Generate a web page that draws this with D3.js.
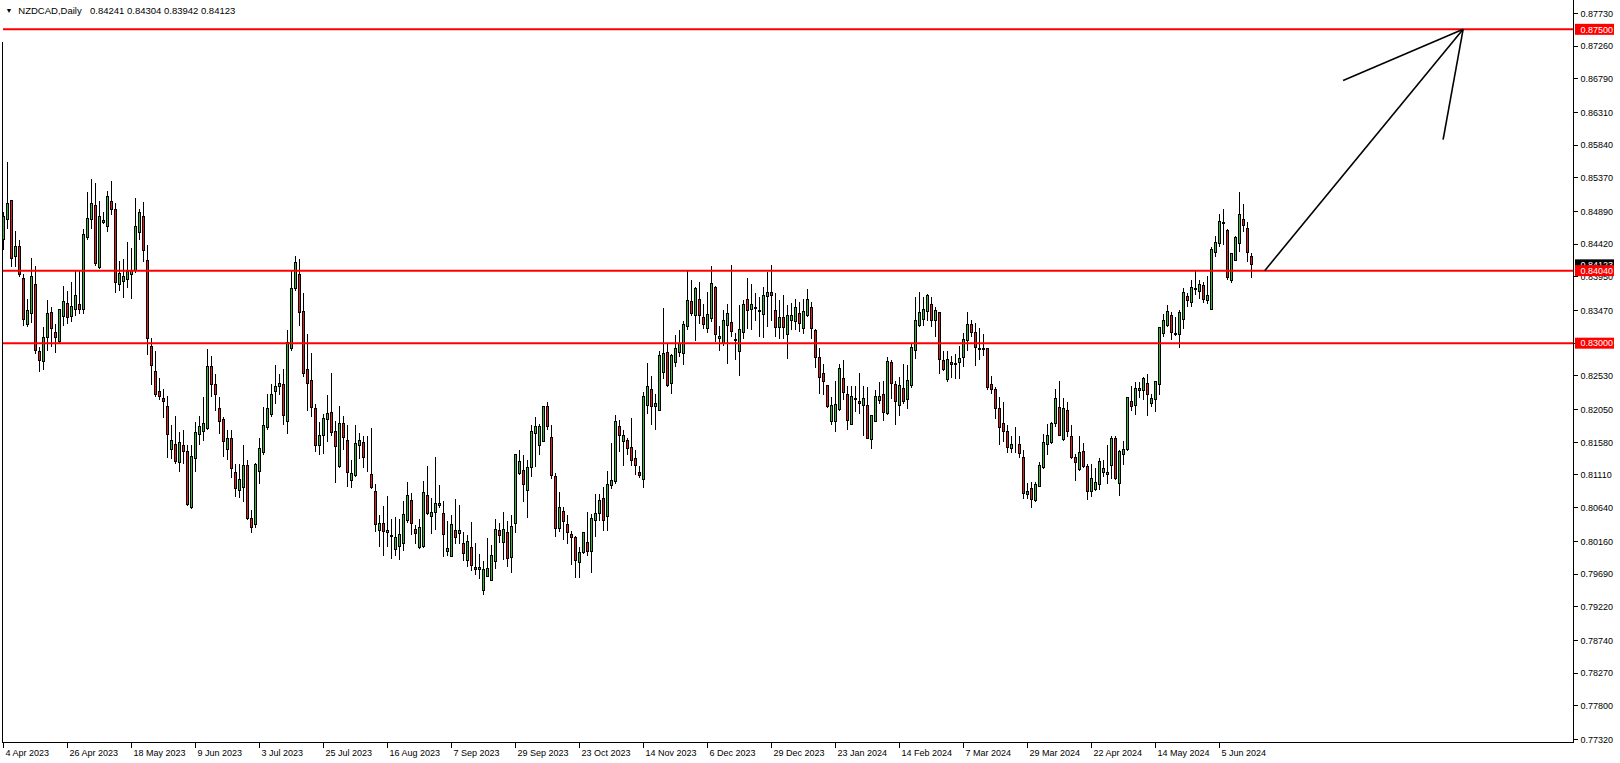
<!DOCTYPE html>
<html><head><meta charset="utf-8">
<script src="https://cdn.jsdelivr.net/npm/d3@7"></script>
<style>
html,body{margin:0;padding:0;background:#fff;overflow:hidden}
text{font-family:"Liberation Sans",Arial,sans-serif}
</style>
</head><body>
<svg id="c" width="1620" height="763"></svg>
<script>
const symbolLabel = "NZDCAD,Daily";
const lastOHLC = ["0.84241","0.84304","0.83942","0.84123"];

const open = [.8449,.8477,.8504,.8424,.8439,.8393,.8327,.8343,.8384,.8288,.8274,.8308,.8344,.8315,.8302,.8338,.8357,.8338,.8348,.8356,
.8349,.8452,.8477,.8497,.8409,.8473,.8468,.8503,.8492,.8384,.8389,.8392,.8398,.8404,.8458,.8482,.8418,.8295,.8259,.8230,
.8220,.8209,.8148,.8154,.8129,.8153,.8144,.8064,.8135,.8169,.8173,.8178,.8266,.8241,.8207,.8191,.8148,.8164,.8115,.8089,
.8093,.8125,.8049,.8040,.8116,.8143,.8179,.8198,.8231,.8238,.8241,.8187,.8292,.8379,.8399,.8346,.8262,.8247,.8207,.8153,
.8167,.8191,.8201,.8174,.8123,.8185,.8160,.8103,.8110,.8153,.8158,.8121,.8111,.8088,.8032,.8041,.8029,.8024,.8004,.8008,
.8013,.8046,.8075,.8033,.8007,.8008,.8081,.8051,.8057,.8067,.8056,.8002,.7994,.8032,.8027,.8013,.7989,.8007,.7979,.7976,
.7945,.7966,.7960,.7987,.8032,.8014,.8029,.7993,.8042,.8113,.8118,.8089,.8122,.8170,.8153,.8159,.8209,.8165,.8109,.8034,
.8058,.8040,.8025,.8021,.7985,.8000,.8014,.8002,.8046,.8056,.8077,.8051,.8096,.8101,.8180,.8159,.8160,.8151,.8134,.8115,
.8105,.8211,.8234,.8209,.8204,.8258,.8286,.8242,.8272,.8287,.8285,.8324,.8360,.8339,.8363,.8337,.8321,.8336,.8380,.8307,
.8300,.8326,.8329,.8305,.8288,.8315,.8363,.8349,.8351,.8346,.8341,.8367,.8373,.8347,.8322,.8337,.8313,.8332,.8331,.8343,
.8321,.8339,.8351,.8318,.8280,.8257,.8239,.8187,.8187,.8205,.8250,.8227,.8184,.8220,.8216,.8210,.8210,.8162,.8188,.8218,
.8227,.8199,.8273,.8241,.8211,.8235,.8219,.8239,.8290,.8325,.8334,.8346,.8356,.8332,.8344,.8275,.8248,.8273,.8270,.8273,
.8279,.8304,.8327,.8315,.8293,.8292,.8292,.8241,.8233,.8207,.8185,.8174,.8149,.8154,.8155,.8136,.8083,.8091,.8074,.8095,
.8122,.8154,.8158,.8185,.8208,.8162,.8204,.8166,.8136,.8119,.8145,.8123,.8087,.8090,.8098,.8114,.8111,.8124,.8164,.8099,
.8141,.8147,.8217,.8210,.8232,.8232,.8242,.8214,.8219,.8241,.8314,.8325,.8340,.8314,.8313,.8334,.8367,.8359,.8377,.8374,
.8383,.8361,.8349,.8430,.8443,.8473,.8462,.8390,.8419,.8443,.8477,.8465,.84241];

const high = [.8489,.8560,.8505,.8462,.8449,.8400,.8364,.8423,.8412,.8295,.8324,.8362,.8352,.8328,.8349,.8383,.8376,.8389,.8404,.8404,
.8465,.8517,.8536,.8530,.8505,.8489,.8519,.8533,.8501,.8419,.8422,.8446,.8437,.8509,.8493,.8503,.8442,.8308,.8290,.8251,
.8235,.8225,.8184,.8197,.8173,.8176,.8154,.8155,.8187,.8197,.8224,.8293,.8282,.8257,.8223,.8195,.8176,.8176,.8128,.8128,
.8155,.8133,.8061,.8129,.8165,.8209,.8228,.8242,.8269,.8257,.8264,.8320,.8405,.8426,.8422,.8372,.8314,.8286,.8214,.8187,
.8199,.8227,.8258,.8189,.8210,.8196,.8184,.8133,.8184,.8172,.8168,.8168,.8179,.8099,.8054,.8067,.8081,.8048,.8052,.8048,
.8074,.8101,.8086,.8040,.8049,.8103,.8124,.8079,.8138,.8097,.8075,.8046,.8054,.8077,.8068,.8030,.8025,.8044,.8014,.7998,
.7989,.8022,.8011,.8049,.8043,.8058,.8046,.8055,.8141,.8148,.8140,.8133,.8184,.8195,.8185,.8211,.8217,.8184,.8114,.8087,
.8066,.8054,.8031,.8024,.8008,.8029,.8058,.8056,.8084,.8085,.8095,.8118,.8158,.8198,.8190,.8176,.8165,.8194,.8148,.8125,
.8231,.8273,.8254,.8228,.8290,.8351,.8300,.8285,.8312,.8319,.8333,.8406,.8391,.8381,.8388,.8357,.8374,.8412,.8383,.8326,
.8348,.8357,.8413,.8316,.8356,.8362,.8394,.8386,.8372,.8367,.8381,.8403,.8413,.8372,.8362,.8370,.8355,.8358,.8364,.8360,
.8364,.8379,.8360,.8321,.8294,.8271,.8240,.8223,.8247,.8271,.8276,.8240,.8239,.8240,.8258,.8240,.8238,.8197,.8233,.8245,
.8247,.8281,.8276,.8247,.8252,.8271,.8269,.8300,.8367,.8374,.8367,.8371,.8367,.8352,.8345,.8289,.8290,.8282,.8285,.8297,
.8316,.8345,.8334,.8330,.8322,.8314,.8293,.8253,.8238,.8223,.8217,.8183,.8168,.8180,.8168,.8147,.8100,.8101,.8101,.8130,
.8170,.8185,.8187,.8235,.8247,.8222,.8216,.8183,.8142,.8168,.8157,.8128,.8128,.8122,.8136,.8133,.8154,.8168,.8168,.8147,
.8161,.8222,.8239,.8245,.8245,.8252,.8257,.8228,.8245,.8324,.8343,.8355,.8345,.8338,.8348,.8380,.8372,.8391,.8404,.8392,
.8389,.8397,.8438,.8454,.8486,.8493,.8464,.8430,.8455,.8517,.8500,.8474,.84304];

const low = [.8435,.8465,.8410,.8410,.8396,.8326,.8324,.8329,.8285,.8259,.8262,.8289,.8295,.8286,.8300,.8326,.8328,.8331,.8340,.8343,
.8343,.8449,.8464,.8412,.8407,.8472,.8460,.8484,.8372,.8376,.8365,.8380,.8364,.8401,.8448,.8417,.8284,.8241,.8223,.8219,
.8193,.8136,.8135,.8128,.8116,.8128,.8067,.8063,.8116,.8155,.8161,.8176,.8223,.8204,.8171,.8137,.8133,.8108,.8080,.8078,
.8073,.8047,.8028,.8035,.8099,.8140,.8176,.8195,.8214,.8227,.8183,.8170,.8290,.8376,.8325,.8252,.8204,.8195,.8144,.8141,
.8142,.8159,.8168,.8100,.8122,.8148,.8094,.8093,.8109,.8135,.8122,.8116,.8092,.8030,.8008,.7995,.8008,.7991,.7996,.7990,
.8003,.8043,.8026,.8013,.8005,.8007,.8055,.8027,.8033,.8065,.7994,.7995,.7994,.8013,.8013,.7989,.7980,.7974,.7969,.7963,
.7939,.7965,.7959,.7977,.8014,.7990,.7980,.7971,.8028,.8112,.8073,.8050,.8109,.8123,.8141,.8159,.8176,.8106,.8023,.8030,
.8019,.8013,.7982,.7964,.7964,.7999,.7995,.7971,.8023,.8046,.8032,.8032,.8091,.8099,.8145,.8124,.8141,.8125,.8112,.8107,
.8093,.8199,.8184,.8176,.8203,.8250,.8238,.8228,.8266,.8281,.8269,.8319,.8340,.8304,.8328,.8321,.8315,.8331,.8302,.8289,
.8297,.8271,.8309,.8276,.8254,.8307,.8321,.8319,.8333,.8310,.8308,.8324,.8333,.8310,.8307,.8307,.8278,.8319,.8319,.8317,
.8314,.8338,.8307,.8265,.8228,.8226,.8208,.8184,.8173,.8204,.8219,.8176,.8183,.8202,.8199,.8168,.8163,.8149,.8187,.8214,
.8189,.8198,.8221,.8184,.8197,.8213,.8207,.8237,.8278,.8324,.8326,.8333,.8324,.8310,.8256,.8261,.8245,.8251,.8250,.8250,
.8267,.8289,.8309,.8268,.8276,.8283,.8234,.8228,.8192,.8155,.8159,.8143,.8143,.8143,.8136,.8077,.8077,.8065,.8073,.8094,
.8120,.8140,.8156,.8180,.8167,.8161,.8166,.8135,.8103,.8118,.8122,.8076,.8080,.8089,.8090,.8109,.8099,.8106,.8105,.8081,
.8126,.8146,.8204,.8198,.8222,.8219,.8197,.8209,.8202,.8226,.8309,.8324,.8305,.8311,.8294,.8321,.8352,.8352,.8370,.8364,
.8358,.8357,.8349,.8424,.8438,.8441,.8392,.8387,.8418,.8432,.8460,.8417,.83942];

const close = [.8481,.8500,.8422,.8438,.8399,.8334,.8347,.8396,.8289,.8275,.8308,.8342,.8321,.8308,.8349,.8360,.8337,.8353,.8369,.8349,
.8456,.8479,.8500,.8414,.8482,.8476,.8510,.8491,.8387,.8400,.8396,.8403,.8404,.8467,.8488,.8433,.8307,.8268,.8227,.8223,
.8216,.8169,.8161,.8130,.8158,.8144,.8069,.8138,.8172,.8181,.8185,.8266,.8241,.8227,.8187,.8159,.8163,.8121,.8092,.8105,
.8125,.8049,.8036,.8126,.8149,.8182,.8206,.8227,.8238,.8242,.8196,.8301,.8379,.8416,.8344,.8257,.8242,.8208,.8153,.8168,
.8192,.8199,.8172,.8152,.8185,.8165,.8114,.8113,.8156,.8160,.8136,.8120,.8093,.8040,.8041,.8030,.8032,.8023,.8022,.8026,
.8055,.8082,.8042,.8027,.8035,.8086,.8056,.8057,.8070,.8070,.8025,.8005,.8040,.8022,.8032,.7999,.8016,.7981,.7976,.7978,
.7975,.7977,.7995,.8033,.8024,.8033,.7991,.8037,.8140,.8131,.8098,.8122,.8174,.8181,.8181,.8209,.8180,.8110,.8034,.8065,
.8044,.8028,.8021,.7989,.8000,.8028,.8002,.8048,.8056,.8074,.8046,.8097,.8103,.8187,.8167,.8168,.8149,.8132,.8124,.8110,
.8224,.8238,.8209,.8214,.8283,.8285,.8239,.8283,.8293,.8300,.8327,.8361,.8343,.8379,.8340,.8327,.8341,.8386,.8313,.8310,
.8333,.8343,.8317,.8304,.8320,.8356,.8347,.8356,.8350,.8347,.8369,.8373,.8368,.8322,.8337,.8322,.8340,.8340,.8351,.8328,
.8345,.8363,.8321,.8280,.8251,.8245,.8209,.8211,.8212,.8263,.8229,.8189,.8223,.8219,.8214,.8221,.8164,.8196,.8223,.8224,
.8200,.8274,.8242,.8216,.8240,.8216,.8247,.8294,.8333,.8344,.8348,.8368,.8332,.8347,.8277,.8262,.8277,.8270,.8271,.8278,
.8305,.8327,.8315,.8294,.8291,.8291,.8236,.8234,.8207,.8179,.8174,.8151,.8154,.8155,.8142,.8084,.8088,.8076,.8098,.8125,
.8158,.8168,.8185,.8221,.8168,.8206,.8173,.8136,.8129,.8143,.8123,.8087,.8106,.8100,.8131,.8121,.8115,.8163,.8106,.8144,
.8148,.8222,.8209,.8235,.8235,.8250,.8227,.8220,.8245,.8323,.8332,.8345,.8316,.8313,.8344,.8372,.8361,.8380,.8378,.8384,
.8362,.8368,.8435,.8445,.8475,.8472,.8394,.8428,.8451,.8485,.8469,.8430,.84123];

const xTickIndex = [0,16,32,48,64,80,96,112,128,144,160,176,192,208,224,240,256,272,288,304];
const xTickLabels = ["4 Apr 2023","26 Apr 2023","18 May 2023","9 Jun 2023","3 Jul 2023","25 Jul 2023","16 Aug 2023",
"7 Sep 2023","29 Sep 2023","23 Oct 2023","14 Nov 2023","6 Dec 2023","29 Dec 2023","23 Jan 2024","14 Feb 2024",
"7 Mar 2024","29 Mar 2024","22 Apr 2024","14 May 2024","5 Jun 2024"];
const yTickValues = [0.87730,0.87260,0.86790,0.86310,0.85840,0.85370,0.84890,0.84420,0.83950,0.83470,0.83000,0.82530,
0.82050,0.81580,0.81110,0.80640,0.80160,0.79690,0.79220,0.78740,0.78270,0.77800,0.77320];
const levels = [0.87500, 0.84040, 0.83000];
const currentPrice = 0.84123;
// arrow annotation: [barIndex, price] pairs
const arrowStart = [315.3, 0.8404];
const arrowTip = [364.9, 0.8750];
const arrowHeadLeft = [334.9, 0.86765];
const arrowHeadRight = [359.9, 0.8592];

const W = 1620, H = 763;
const svg = d3.select("#c");
svg.append("rect").attr("width", W).attr("height", H).attr("fill", "#fff");

const x = d3.scaleLinear().domain([0, 312]).range([3.5, 1251.5]);
const y = d3.scaleLinear().domain([0.7732, 0.8773]).range([739.3, 13.3]);
const axisX = 1573.5, bottomY = 742.5;
const snap = v => Math.round(v - 0.5) + 0.5;

const data = open.map((o, i) => ({i, o, h: high[i], l: low[i], c: close[i]}));

const cg = svg.append("g").attr("shape-rendering", "crispEdges");
cg.selectAll("line").data(data).join("line")
  .attr("x1", d => x(d.i)).attr("x2", d => x(d.i))
  .attr("y1", d => snap(y(Math.max(d.h, d.o, d.c))))
  .attr("y2", d => snap(y(Math.min(d.l, d.o, d.c))) + 0.5)
  .attr("stroke", "#000").attr("stroke-width", 1);
cg.selectAll("rect").data(data).join("rect")
  .attr("x", d => x(d.i) - 1).attr("width", 2)
  .attr("y", d => snap(y(Math.max(d.o, d.c))))
  .attr("height", d => Math.max(0, snap(y(Math.min(d.o, d.c))) - snap(y(Math.max(d.o, d.c)))))
  .attr("fill", d => d.c >= d.o ? "#33b633" : "#e41c1c")
  .attr("stroke", "#000").attr("stroke-width", 1);

// horizontal levels
svg.append("g").selectAll("line").data(levels).join("line")
  .attr("x1", 3).attr("x2", axisX)
  .attr("y1", d => y(d)).attr("y2", d => y(d))
  .attr("stroke", "#ff0000").attr("stroke-width", 2);

// arrow
const ag = svg.append("g").attr("stroke", "#000").attr("stroke-width", 1.6).attr("fill", "none");
[[arrowStart, arrowTip], [arrowHeadLeft, arrowTip], [arrowHeadRight, arrowTip]].forEach(seg => {
  ag.append("line")
    .attr("x1", x(seg[0][0])).attr("y1", y(seg[0][1]))
    .attr("x2", x(seg[1][0])).attr("y2", y(seg[1][1]));
});

// frame
const fg = svg.append("g").attr("stroke", "#000").attr("stroke-width", 1).attr("shape-rendering", "crispEdges");
fg.append("line").attr("x1", 2.5).attr("x2", 2.5).attr("y1", 42).attr("y2", bottomY + 0.5);
fg.append("line").attr("x1", 2).attr("x2", axisX + 0.5).attr("y1", bottomY).attr("y2", bottomY);
fg.append("line").attr("x1", axisX).attr("x2", axisX).attr("y1", 0).attr("y2", bottomY + 0.5);

// y axis ticks + labels
const yg = svg.append("g");
yTickValues.forEach(v => {
  const yy = snap(y(v));
  yg.append("line").attr("x1", axisX).attr("x2", axisX + 4).attr("y1", yy).attr("y2", yy)
    .attr("stroke", "#000").attr("shape-rendering", "crispEdges");
  yg.append("text").attr("x", 1580.5).attr("y", y(v) + 3.3).attr("font-size", "9px").attr("fill", "#000")
    .text(v.toFixed(5));
});

// current price label (black), then level labels (red)
const cy = y(currentPrice);
svg.append("rect").attr("x", 1575).attr("y", cy - 5.5).attr("width", 39).attr("height", 11).attr("fill", "#000");
svg.append("text").attr("x", 1580.5).attr("y", cy + 3.3).attr("font-size", "9px").attr("fill", "#fff").text(currentPrice.toFixed(5));
levels.forEach(v => {
  const ly = y(v);
  svg.append("rect").attr("x", 1575).attr("y", ly - 5.5).attr("width", 39).attr("height", 11).attr("fill", "#ff0000");
  svg.append("text").attr("x", 1580.5).attr("y", ly + 3.3).attr("font-size", "9px").attr("fill", "#fff").text(v.toFixed(5));
});

// x axis ticks + labels
const xg = svg.append("g");
xTickIndex.forEach((idx, k) => {
  const xx = x(idx);
  xg.append("line").attr("x1", xx).attr("x2", xx).attr("y1", bottomY).attr("y2", bottomY + 5)
    .attr("stroke", "#000").attr("shape-rendering", "crispEdges");
  xg.append("text").attr("x", xx + 2).attr("y", 756).attr("font-size", "9px").attr("fill", "#000")
    .text(xTickLabels[k]);
});

// title
svg.append("text").attr("x", 5.5).attr("y", 13).attr("font-size", "7px").attr("fill", "#000")
  .attr("font-family", "DejaVu Sans").text("▼");
svg.append("text").attr("x", 18.3).attr("y", 14).attr("font-size", "9.5px").attr("fill", "#000").text(symbolLabel);
svg.append("text").attr("x", 90).attr("y", 14).attr("font-size", "9.5px").attr("fill", "#000").text(lastOHLC.join(" "));
</script>
</body></html>
